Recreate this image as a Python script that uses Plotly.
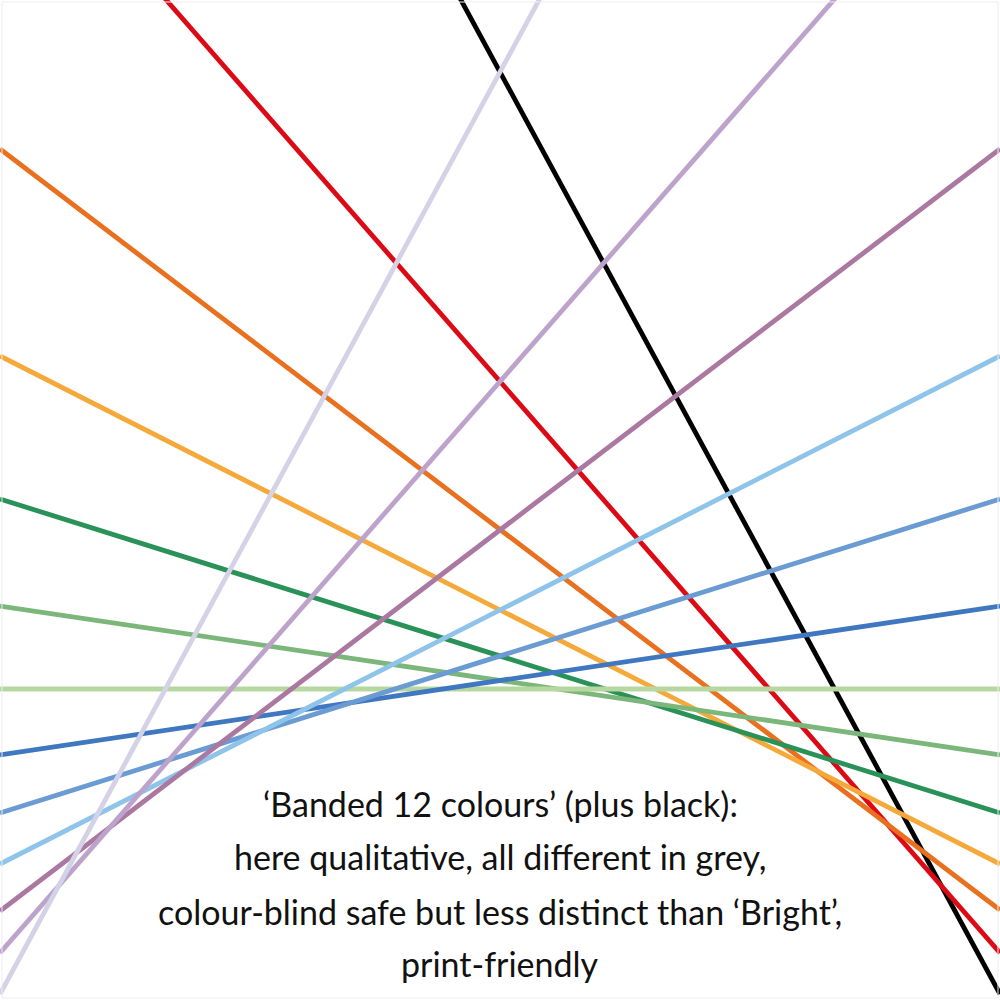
import plotly.graph_objects as go

# Line endpoints: y (pixels from top) at the left edge x=0 and right edge x=1000
x_ends = [0, 1000]
names = ["black", "red", "orange", "yellow", "dark green", "green", "light green",
         "blue", "mid blue", "light blue", "purple", "light purple", "lavender"]
y_left = [-850, -190, 149, 356, 499, 606, 689, 755, 813, 864, 911, 953, 994]
y_right = [994, 953, 910, 864, 813, 755, 689, 606, 499, 356, 149, -190, -850]
colors = ["#000000", "#DC0A14", "#E8701F", "#F6A93B", "#2A9258", "#7BB77A", "#B7D7A0",
          "#3F77C0", "#6A9BD2", "#8EC4EA", "#AA78A0", "#BDA3CB", "#D4D2E6"]

caption = [
    "\u2018Banded 12 colours\u2019 (plus black):",
    "here qualitative, all different in grey,",
    "colour-blind safe but less distinct than \u2018Bright\u2019,",
    "print-friendly",
]
caption_y = [803, 856, 911, 963]

fig = go.Figure()
for name, yl, yr, col in zip(names, y_left, y_right, colors):
    fig.add_trace(go.Scatter(x=x_ends, y=[yl, yr], mode="lines", name=name,
                             line=dict(color=col, width=4.8), hoverinfo="skip"))

for txt, yy in zip(caption, caption_y):
    fig.add_annotation(x=500, y=yy, text=txt, showarrow=False, xanchor="center", yanchor="middle",
                       font=dict(family="Lato", size=34, color="#111111"))

# faint frame round the picture
fig.add_shape(type="rect", xref="paper", yref="paper", x0=0.002, y0=0.002, x1=0.998, y1=0.998,
              line=dict(color="#eeeeee", width=1))

fig.update_layout(
    width=1000, height=1000,
    margin=dict(l=0, r=0, t=0, b=0),
    paper_bgcolor="white", plot_bgcolor="white",
    showlegend=False,
    xaxis=dict(range=[0, 1000], visible=False, fixedrange=True),
    yaxis=dict(range=[1000, 0], visible=False, fixedrange=True),
)

# drop the browser's default page margin so the chart sits at the window corner
fig.write_html("out.html", config={"displayModeBar": False},
               post_script="document.body.style.margin='0';")
